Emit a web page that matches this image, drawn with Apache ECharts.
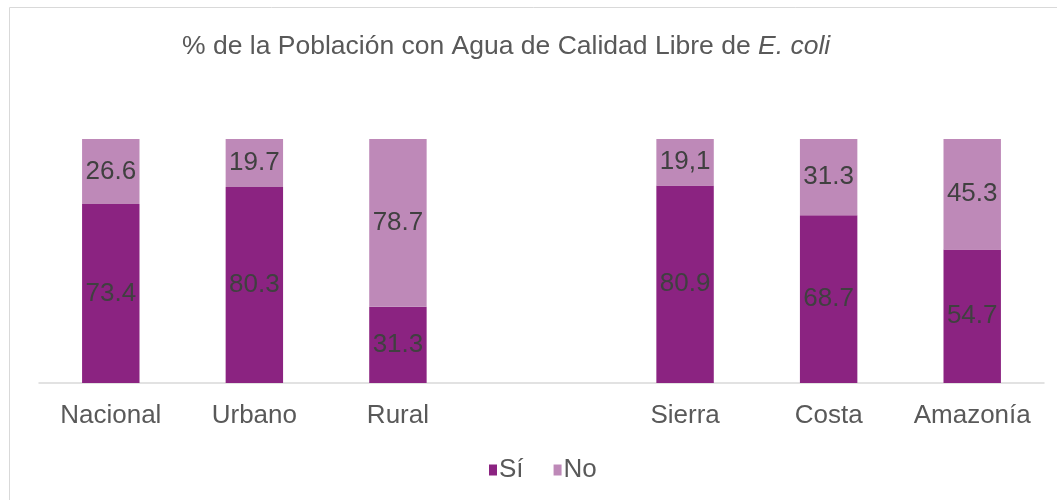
<!DOCTYPE html>
<html>
<head>
<meta charset="utf-8">
<script src="https://cdn.jsdelivr.net/npm/echarts@6/dist/echarts.min.js"></script>
<style>
  html, body { margin: 0; padding: 0; background: #fff; }
  #main { width: 1057px; height: 500px; }
</style>
</head>
<body>
<div id="main"></div>
<script>
// categorias (la cuarta queda vacia, separa area y region)
var categorias = ['Nacional', 'Urbano', 'Rural', '', 'Sierra', 'Costa', 'Amazonía'];
var si = [73.4, 80.3, 31.3, null, 80.9, 68.7, 54.7];
var no = [26.6, 19.7, 78.7, null, 19.1, 31.3, 45.3];
// etiquetas tal como aparecen (Sierra usa coma)
var noTexto = ['26.6', '19.7', '78.7', '', '19,1', '31.3', '45.3'];

var font = 'Liberation Sans, Arial, sans-serif';
var chart = echarts.init(document.getElementById('main'));

chart.setOption({
  animation: false,
  textStyle: { fontFamily: font },
  title: {
    text: '{n|% de la Población con Agua de Calidad Libre de }{i|E. coli}',
    left: 177,
    top: 28,
    textStyle: {
      fontWeight: 'normal',
      rich: {
        n: { fontSize: 26.5, color: '#595959', fontFamily: font, fontWeight: 'normal' },
        i: { fontSize: 26.5, color: '#595959', fontFamily: font, fontWeight: 'normal', fontStyle: 'italic' }
      }
    }
  },
  graphic: [{
    type: 'rect',
    shape: { x: 9.5, y: 7.5, width: 1200, height: 700 },
    style: { fill: 'none', stroke: '#d9d9d9', lineWidth: 1 },
    silent: true
  }],
  legend: {
    bottom: 12,
    left: 484,
    itemWidth: 8,
    itemHeight: 11,
    itemGap: 30,
    icon: 'rect',
    textStyle: { fontSize: 26, color: '#595959', padding: [0, 0, 0, -3] },
    data: ['Sí', 'No']
  },
  grid: { left: 39, right: 13, top: 139, bottom: 117 },
  xAxis: {
    type: 'category',
    data: categorias,
    axisLine: { lineStyle: { color: '#d9d9d9', width: 1.5 } },
    axisTick: { show: false },
    axisLabel: { fontSize: 26, color: '#595959', margin: 20, interval: 0 }
  },
  yAxis: {
    type: 'value',
    min: 0,
    max: 100,
    show: false,
    splitLine: { show: false }
  },
  series: [
    {
      name: 'Sí',
      type: 'bar',
      stack: 'total',
      barWidth: '40%',
      clip: true,
      data: si,
      itemStyle: { color: '#8b2381' },
      label: {
        show: true,
        position: 'inside',
        fontSize: 26,
        color: '#404040',
        formatter: function (p) { return p.value == null ? '' : p.value.toFixed(1); }
      }
    },
    {
      name: 'No',
      type: 'bar',
      stack: 'total',
      barWidth: '40%',
      clip: true,
      data: no,
      itemStyle: { color: '#be89b8' },
      label: {
        show: true,
        position: 'inside',
        fontSize: 26,
        color: '#404040',
        formatter: function (p) { return noTexto[p.dataIndex]; }
      }
    }
  ]
});
</script>
</body>
</html>
